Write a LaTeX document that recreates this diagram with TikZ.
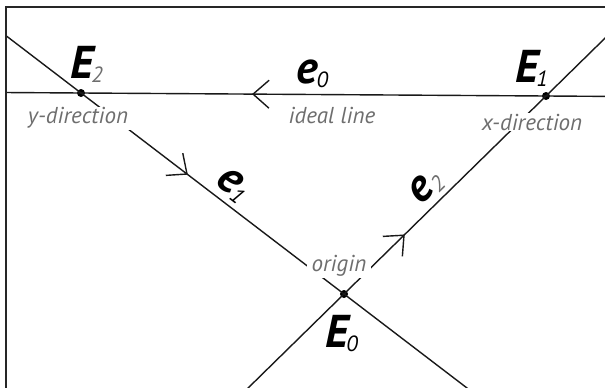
\documentclass[tikz,border=0pt]{standalone}
\usepackage{fontspec}
\setmainfont{PT Sans}
\usetikzlibrary{calc,decorations.markings}
\definecolor{lgray}{HTML}{6E6E6E}
\newcommand\sbx[2]{{\fontsize{22}{22}\selectfont\mdseries\itshape\color{#1}\raisebox{-4pt}{#2}}}
\begin{document}
\begin{tikzpicture}[x=1pt,y=-1pt,
  ln/.style={line width=1.4pt, black!90},
  dot/.style={circle, fill=black, inner sep=0pt, minimum size=8pt},
  glab/.style={font=\fontsize{23}{24}\selectfont\itshape, text=lgray, fill=white, inner xsep=5pt, inner ysep=1pt},
  blab/.style={font=\fontsize{46}{46}\selectfont\bfseries\itshape, inner sep=0pt},
  chev/.style={decoration={markings, mark=at position #1 with {\draw[ln, line cap=butt, line join=miter] (-16pt,-14pt) -- (0pt,0pt) -- (-16pt,14pt);}}, decorate}
]
\useasboundingbox (0,0) rectangle (605,388);
\node[dot] (E2) at (81,93) {};
\node[dot] (E1) at (546,96) {};
\node[dot] (E0) at (344,294) {};
\begin{scope}
\clip (6,7) rectangle (605,388);
\draw[ln] ($(E2)!-0.2!(E1)$) -- ($(E2)!1.2!(E1)$);
\draw[ln] ($(E2)!-0.35!(E0)$) -- ($(E2)!1.55!(E0)$);
\draw[ln] ($(E0)!-0.55!(E1)$) -- ($(E0)!1.35!(E1)$);
\end{scope}
\draw[line width=1.2pt, black!85] (605,7) -- (6,7) -- (6,388);
\path[chev=0.63] (E1.center) -- (E2.center);
\path[chev=0.403] (E2.center) -- (E0.center);
\path[chev=0.297] (E0.center) -- (E1.center);
\node[glab] (yd) at (78,118) {y-direction};
\node[glab] (il) at (332,115) {ideal line};
\node[glab] (xd) at (532,122) {x-direction};
\node[glab] (or) at (339,266) {origin};
\node[blab, anchor=base west] (L2) at (70,78) {E\kern-2pt\sbx{lgray}{2}};
\node[blab, anchor=base west] (L1) at (515,82) {E\kern-2pt\sbx{black}{1}};
\node[blab, anchor=base west] (L0) at (325,347) {E\kern-2pt\sbx{black}{0}};
\node[blab, anchor=base west] (l0) at (296,83) {e\kern-1pt\sbx{black}{0}};
\node[blab, rotate=-37.4] (l1) at (233,185) {e\kern-1pt\sbx{black}{1}};
\node[blab, rotate=44.4] (l2) at (426,187) {e\kern-1pt\sbx{lgray}{2}};
\end{tikzpicture}
\end{document}
